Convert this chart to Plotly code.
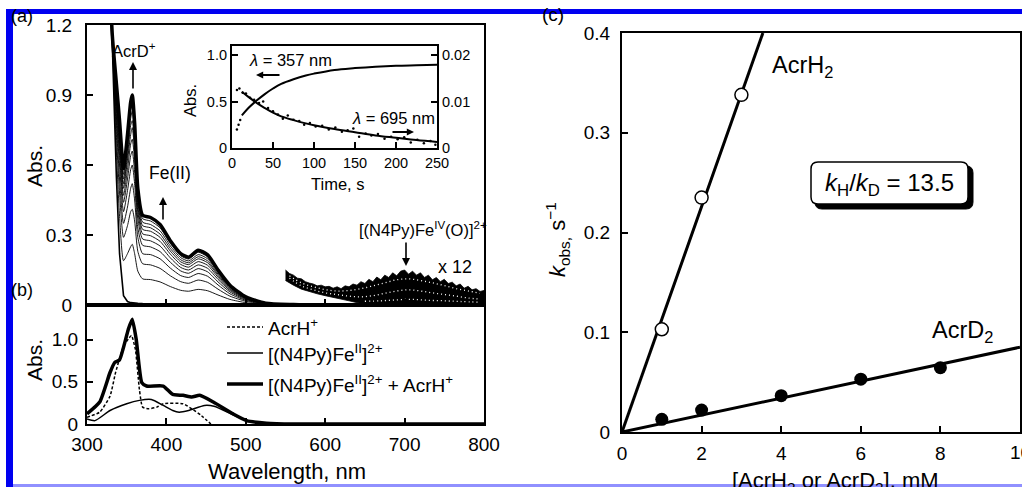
import plotly.graph_objects as go

W, H = 1022, 487
FONT = "Liberation Sans, Arial, Helvetica, sans-serif"


def px(x):
    return x / W


def py(y):
    return 1 - y / H


# ---------------- Panel (a): spectral changes ----------------
grid_nm = [326, 332, 337, 341, 346, 351, 355, 357, 360, 364, 370, 380, 392, 405,
           418, 428, 440, 452, 465, 480, 500, 525]
initial_nm = grid_nm + [560, 800]
initial_abs = [1.5, 1.1, 0.55, 0.22, 0.04, 0.015, 0.01, 0.01, 0.008, 0.007, 0.006,
               0.005, 0.004, 0.003, 0.002, 0.002, 0.002, 0.001, 0.001, 0.0, 0.0, 0.0,
               0.0, 0.0]
final_nm = grid_nm + [560, 600, 800]
final_abs = [1.6, 1.15, 0.95, 0.79, 0.585, 0.73, 0.87, 0.90, 0.78, 0.50, 0.385, 0.375,
             0.345, 0.275, 0.22, 0.205, 0.235, 0.215, 0.15, 0.085, 0.035, 0.008,
             0.002, 0.0, 0.0]
spec_1 = [1.53, 1.11, 0.66, 0.38, 0.19, 0.22, 0.25, 0.26, 0.22, 0.145, 0.112, 0.109,
          0.099, 0.079, 0.063, 0.059, 0.067, 0.061, 0.043, 0.024, 0.010, 0.002]
spec_2 = [1.55, 1.12, 0.73, 0.48, 0.29, 0.34, 0.40, 0.41, 0.36, 0.23, 0.177, 0.172,
          0.157, 0.125, 0.100, 0.093, 0.107, 0.097, 0.068, 0.038, 0.016, 0.004]
spec_3 = [1.56, 1.13, 0.78, 0.54, 0.35, 0.42, 0.50, 0.52, 0.45, 0.29, 0.22, 0.216,
          0.198, 0.158, 0.126, 0.118, 0.135, 0.123, 0.086, 0.048, 0.020, 0.005]
spec_4 = [1.57, 1.13, 0.81, 0.60, 0.40, 0.49, 0.58, 0.60, 0.52, 0.33, 0.256, 0.249,
          0.229, 0.183, 0.146, 0.136, 0.156, 0.142, 0.099, 0.056, 0.023, 0.005]
spec_5 = [1.57, 1.14, 0.84, 0.64, 0.44, 0.54, 0.64, 0.66, 0.57, 0.37, 0.283, 0.275,
          0.253, 0.202, 0.161, 0.150, 0.172, 0.157, 0.110, 0.062, 0.026, 0.006]
spec_6 = [1.58, 1.14, 0.87, 0.67, 0.47, 0.58, 0.69, 0.71, 0.62, 0.40, 0.305, 0.297,
          0.273, 0.218, 0.174, 0.162, 0.186, 0.170, 0.119, 0.067, 0.028, 0.006]
spec_7 = [1.58, 1.14, 0.89, 0.70, 0.50, 0.62, 0.73, 0.76, 0.66, 0.42, 0.324, 0.316,
          0.290, 0.231, 0.185, 0.173, 0.198, 0.181, 0.126, 0.071, 0.029, 0.007]
spec_8 = [1.59, 1.14, 0.90, 0.72, 0.52, 0.64, 0.77, 0.79, 0.69, 0.44, 0.34, 0.331,
          0.304, 0.242, 0.194, 0.181, 0.207, 0.189, 0.132, 0.075, 0.031, 0.007]
spec_9 = [1.59, 1.15, 0.92, 0.74, 0.54, 0.67, 0.80, 0.83, 0.72, 0.46, 0.355, 0.345,
          0.318, 0.253, 0.203, 0.189, 0.216, 0.198, 0.138, 0.078, 0.032, 0.007]
spec_10 = [1.60, 1.15, 0.93, 0.77, 0.56, 0.70, 0.84, 0.86, 0.75, 0.48, 0.37, 0.36,
           0.331, 0.264, 0.211, 0.197, 0.226, 0.206, 0.144, 0.082, 0.034, 0.008]
intermediate_spectra = [spec_1, spec_2, spec_3, spec_4, spec_5, spec_6, spec_7,
                        spec_8, spec_9, spec_10]

# x12 magnified Fe(IV)=O band (noisy region), upper and lower envelopes
band_up_nm = list(range(550, 801, 5))
band_up_abs = [0.150, 0.135, 0.128, 0.115, 0.112, 0.100, 0.094, 0.090, 0.082, 0.085,
               0.078, 0.080, 0.072, 0.078, 0.070, 0.082, 0.078, 0.090, 0.085, 0.100,
               0.092, 0.110, 0.100, 0.120, 0.108, 0.128, 0.118, 0.138, 0.125, 0.145,
               0.150, 0.132, 0.145, 0.128, 0.138, 0.118, 0.128, 0.108, 0.118, 0.100,
               0.110, 0.092, 0.098, 0.082, 0.090, 0.072, 0.080, 0.065, 0.070, 0.058,
               0.062]
band_lo_nm = [550, 560, 570, 580, 590, 600, 610, 620, 630, 640, 650, 660, 680, 700, 800]
band_lo_abs = [0.105, 0.085, 0.068, 0.058, 0.048, 0.040, 0.030, 0.025, 0.018, 0.010,
               0.006, 0.004, 0.002, 0.002, 0.002]
# white speckles seen inside the noisy band
speck_nm = [555, 570, 585, 600, 615, 630, 645, 660, 675, 690, 705, 720, 735, 750, 765,
            780, 795]
speck_hi_abs = [0.125, 0.095, 0.078, 0.066, 0.060, 0.062, 0.070, 0.082, 0.095, 0.108,
                0.112, 0.105, 0.095, 0.083, 0.070, 0.060, 0.050]
speck_mid_abs = [0.115, 0.082, 0.065, 0.052, 0.045, 0.038, 0.035, 0.040, 0.050, 0.060,
                 0.065, 0.060, 0.052, 0.045, 0.038, 0.030, 0.025]
speck_lo_nm = [650, 670, 690, 710, 730, 750, 770, 795]
speck_lo_abs = [0.016, 0.018, 0.022, 0.024, 0.020, 0.018, 0.015, 0.012]

# ---------------- Inset: time courses ----------------
t_357 = [12, 20, 30, 40, 50, 60, 75, 90, 100, 125, 150, 175, 200, 225, 250]
abs_357 = [0.35, 0.43, 0.51, 0.58, 0.64, 0.69, 0.74, 0.78, 0.80, 0.84, 0.86, 0.875,
           0.885, 0.89, 0.895]
t_357_pts = [6, 8, 10]
abs_357_pts = [0.20, 0.25, 0.30]
t_695 = [12, 20, 30, 40, 50, 60, 75, 90, 100, 125, 150, 175, 200, 225, 250]
abs_695 = [0.0121, 0.0110, 0.0097, 0.0086, 0.0076, 0.0068, 0.0060, 0.0053, 0.0049,
           0.0041, 0.0034, 0.0027, 0.0022, 0.0017, 0.0013]
t_695_pts = [6, 9, 13, 17, 22, 27, 33, 38, 44, 50, 56, 62, 68, 75, 82, 88, 95, 102, 110,
             118, 126, 134, 141, 148, 155, 163, 170, 178, 186, 194, 202, 210, 218, 226,
             234, 242, 248]
abs_695_pts = [0.0125, 0.0128, 0.0119, 0.0117, 0.0108, 0.0104, 0.0097, 0.0100, 0.0086,
               0.0079, 0.0072, 0.0063, 0.0070, 0.0061, 0.0058, 0.0050, 0.0054, 0.0046,
               0.0048, 0.0040, 0.0044, 0.0035, 0.0038, 0.0042, 0.0024, 0.0031, 0.0027,
               0.0030, 0.0020, 0.0024, 0.0019, 0.0023, 0.0012, 0.0018, 0.0010, 0.0015,
               0.0007]

# ---------------- Panel (b): reference spectra ----------------
mix_nm = [300, 316, 329, 335, 341, 352, 357, 362, 369, 375, 396, 408, 421, 432, 442,
          459, 484, 501, 526, 560, 800]
mix_abs = [0.12, 0.26, 0.61, 0.73, 0.76, 1.12, 1.24, 1.0, 0.49, 0.45, 0.45, 0.35, 0.34,
           0.32, 0.34, 0.26, 0.12, 0.04, 0.01, 0.0, 0.0]
acrh_nm = [300, 316, 329, 336, 346, 353, 356, 361, 366, 370, 378, 388, 396, 421, 432,
           444, 456]
acrh_abs = [0.08, 0.14, 0.33, 0.61, 0.92, 1.02, 1.05, 0.88, 0.41, 0.20, 0.18, 0.20, 0.24,
            0.24, 0.18, 0.10, 0.0]
fe2_nm = [300, 310, 329, 350, 366, 381, 396, 408, 416, 428, 448, 460, 484, 501, 520, 550]
fe2_abs = [0.06, 0.04, 0.16, 0.24, 0.28, 0.29, 0.22, 0.16, 0.14, 0.16, 0.22, 0.21, 0.11,
           0.04, 0.01, 0.0]

# ---------------- Panel (c): kinetics ----------------
conc_h = [1, 2, 3]
kobs_h = [0.103, 0.235, 0.338]
fit_h_x = [0, 3.54]
fit_h_y = [0, 0.4]
conc_d = [1, 2, 4, 6, 8]
kobs_d = [0.0127, 0.022, 0.0364, 0.053, 0.0645]
fit_d_x = [0, 10]
fit_d_y = [0, 0.085]
c_ticks = [0, 2, 4, 6, 8, 10]

fig = go.Figure()

# panel (a) traces
fig.add_trace(go.Scatter(x=initial_nm, y=initial_abs, mode="lines",
                         line=dict(color="black", width=1.6), xaxis="x", yaxis="y"))
for s in intermediate_spectra:
    fig.add_trace(go.Scatter(x=grid_nm, y=s, mode="lines",
                             line=dict(color="black", width=0.9, shape="spline", smoothing=0.6),
                             xaxis="x", yaxis="y"))
fig.add_trace(go.Scatter(x=final_nm, y=final_abs, mode="lines",
                         line=dict(color="black", width=3.5, shape="spline", smoothing=0.6),
                         xaxis="x", yaxis="y"))
fig.add_trace(go.Scatter(x=band_up_nm + band_lo_nm[::-1], y=band_up_abs + band_lo_abs[::-1],
                         mode="lines", fill="toself", fillcolor="black",
                         line=dict(color="black", width=0.8), xaxis="x", yaxis="y"))
for xs, ys in [(speck_nm, speck_hi_abs), (speck_nm, speck_mid_abs), (speck_lo_nm, speck_lo_abs)]:
    fig.add_trace(go.Scatter(x=xs, y=ys, mode="lines",
                             line=dict(color="white", width=1.3, dash="1px,3px", shape="spline"),
                             xaxis="x", yaxis="y"))

# inset traces
fig.add_trace(go.Scatter(x=t_357, y=abs_357, mode="lines",
                         line=dict(color="black", width=2, shape="spline"), xaxis="x3", yaxis="y3"))
fig.add_trace(go.Scatter(x=t_357_pts, y=abs_357_pts, mode="markers",
                         marker=dict(color="black", size=2.5), xaxis="x3", yaxis="y3"))
fig.add_trace(go.Scatter(x=t_695_pts, y=abs_695_pts, mode="markers",
                         marker=dict(color="black", size=2.5), xaxis="x3", yaxis="y4"))
fig.add_trace(go.Scatter(x=t_695, y=abs_695, mode="lines",
                         line=dict(color="black", width=2, shape="spline"), xaxis="x3", yaxis="y4"))

# panel (b) traces
fig.add_trace(go.Scatter(x=acrh_nm, y=acrh_abs, mode="lines",
                         line=dict(color="black", width=1.5, dash="3px,2px", shape="spline", smoothing=0.5),
                         xaxis="x2", yaxis="y2"))
fig.add_trace(go.Scatter(x=fe2_nm, y=fe2_abs, mode="lines",
                         line=dict(color="black", width=1.5, shape="spline", smoothing=0.6),
                         xaxis="x2", yaxis="y2"))
fig.add_trace(go.Scatter(x=mix_nm, y=mix_abs, mode="lines",
                         line=dict(color="black", width=3.5, shape="spline", smoothing=0.5),
                         xaxis="x2", yaxis="y2"))

# panel (c) traces
fig.add_trace(go.Scatter(x=fit_h_x, y=fit_h_y, mode="lines",
                         line=dict(color="black", width=3), xaxis="x4", yaxis="y5"))
fig.add_trace(go.Scatter(x=fit_d_x, y=fit_d_y, mode="lines",
                         line=dict(color="black", width=3), xaxis="x4", yaxis="y5"))
fig.add_trace(go.Scatter(x=conc_h, y=kobs_h, mode="markers",
                         marker=dict(color="white", size=13, line=dict(color="black", width=1.5)),
                         xaxis="x4", yaxis="y5", cliponaxis=False))
fig.add_trace(go.Scatter(x=conc_d, y=kobs_d, mode="markers",
                         marker=dict(color="black", size=13),
                         xaxis="x4", yaxis="y5", cliponaxis=False))

axis_common = dict(showline=True, linecolor="black", linewidth=2.2, mirror=True,
                   ticks="inside", tickcolor="black", tickwidth=1.5, ticklen=6,
                   showgrid=False, zeroline=False, fixedrange=True, automargin=False)

tick19 = dict(family=FONT, size=19, color="black")
tick15 = dict(family=FONT, size=14.5, color="black")

fig.update_layout(
    width=W, height=H, margin=dict(l=0, r=0, t=0, b=0, pad=0), autosize=False,
    paper_bgcolor="white", plot_bgcolor="white", showlegend=False,
    font=dict(family=FONT, color="black"),
    xaxis=dict(domain=[px(87), px(484)], anchor="y", range=[300, 800],
               tickvals=[400, 500, 600, 700], showticklabels=False, **axis_common),
    yaxis=dict(domain=[py(305), py(25)], anchor="x", range=[0, 1.2],
               tickvals=[0, 0.3, 0.6, 0.9, 1.2], ticktext=["0", "0.3", "0.6", "0.9", "1.2"],
               tickfont=tick19, ticklabelstandoff=9, **axis_common),
    xaxis2=dict(domain=[px(87), px(484)], anchor="y2", range=[300, 800],
                tickvals=[300, 400, 500, 600, 700, 800], tickfont=tick19,
                ticklabelstandoff=2, **axis_common),
    yaxis2=dict(domain=[py(424), py(305)], anchor="x2", range=[0, 1.41],
                tickvals=[0, 0.5, 1.0], ticktext=["0", "0.5", "1.0"],
                tickfont=tick19, ticklabelstandoff=3, **axis_common),
    xaxis3=dict(domain=[px(232), px(437)], anchor="y3", range=[0, 250],
                tickvals=[0, 50, 100, 150, 200, 250], tickfont=tick15, **axis_common),
    yaxis3=dict(domain=[py(148), py(46)], anchor="x3", range=[0, 1.097],
                tickvals=[0, 0.5, 1.0], ticktext=["0", "0.5", "1.0"], tickfont=tick15,
                **axis_common),
    yaxis4=dict(overlaying="y3", anchor="x3", side="right", range=[0, 0.02194],
                tickvals=[0, 0.01, 0.02], ticktext=["0", "0.01", "0.02"], tickfont=tick15,
                showline=True, linecolor="black", linewidth=2.2, ticks="inside",
                tickcolor="black", tickwidth=1.5, ticklen=6, showgrid=False,
                zeroline=False, fixedrange=True, automargin=False),
    xaxis4=dict(domain=[px(622), px(1020)], anchor="y5", range=[0, 10],
                tickvals=c_ticks, tickfont=tick19, ticklabelstandoff=3,
                **axis_common),
    yaxis5=dict(domain=[py(432), py(33)], anchor="x4", range=[0, 0.4],
                tickvals=[0, 0.1, 0.2, 0.3, 0.4], ticktext=["0", "0.1", "0.2", "0.3", "0.4"],
                tickfont=tick19, ticklabelstandoff=6, **axis_common),
)

ann = []


def text(x, y, s, size=17, angle=0, xanchor="center", yanchor="middle"):
    ann.append(dict(x=px(x), y=py(y), xref="paper", yref="paper", text=s, showarrow=False,
                    font=dict(family=FONT, size=size, color="black"), textangle=angle,
                    xanchor=xanchor, yanchor=yanchor))


def arrow(x_head, y_head, x_tail, y_tail, width=1.6, head=2, size=1.0):
    ann.append(dict(x=px(x_head), y=py(y_head), xref="paper", yref="paper", text="",
                    showarrow=True, ax=x_tail - x_head, ay=y_tail - y_head,
                    arrowhead=head, arrowsize=size, arrowwidth=width, arrowcolor="black"))


# panel labels
text(22, 16, "(a)", 18)
text(22, 290, "(b)", 18)
text(553, 15, "(c)", 19)

# axis titles
text(34, 166, "Abs.", 21, angle=-90)
text(34, 360, "Abs.", 21, angle=-90)
text(287, 471, "Wavelength, nm", 22)
text(190, 101, "Abs.", 16.5, angle=-90)
text(337, 184, "Time, s", 16.5)
text(557, 240, "<i>k</i><sub>obs,</sub> s<sup>−1</sup>", 22, angle=-90)
text(835, 466, "[AcrH<sub>2</sub> or AcrD<sub>2</sub>], mM", 22, yanchor="top")
# last x tick label of panel (c), partly beyond the right edge as in the original
ann.append(dict(x=c_ticks[-1], y=0, xref="x4", yref="y5", text=str(c_ticks[-1]),
                showarrow=False, yanchor="top", yshift=-8,
                font=dict(family=FONT, size=19, color="black")))

# panel (a) annotations
text(134, 50, "AcrD<sup>+</sup>", 16.5)
arrow(133, 62, 133, 90)
text(170, 173, "Fe(II)", 17.5)
arrow(163, 197, 163, 221)
text(423, 229, "[(N4Py)Fe<sup>IV</sup>(O)]<sup>2+</sup>", 16.5)
arrow(406, 266, 406, 241)
text(455, 267, "x 12", 18)

# inset annotations
text(290, 60, "<i>λ</i> = 357 nm", 16.5)
arrow(256, 75, 281, 75, width=1.8, head=2, size=0.8)
text(393, 118, "<i>λ</i> = 695 nm", 16.5)
arrow(414, 132, 391, 132, width=1.8, head=2, size=0.8)

# panel (b) legend
legend_rows = [(327, "AcrH<sup>+</sup>"), (353, "[(N4Py)Fe<sup>II</sup>]<sup>2+</sup>"),
               (384, "[(N4Py)Fe<sup>II</sup>]<sup>2+</sup> + AcrH<sup>+</sup>")]
for yy, s in legend_rows:
    text(266, yy, s, 19, xanchor="left")

# panel (c) annotations
text(802, 66, "AcrH<sub>2</sub>", 23.5)
text(962, 331, "AcrD<sub>2</sub>", 23.5)
text(889, 184, "<i>k</i><sub>H</sub>/<i>k</i><sub>D</sub> = 13.5", 24)

fig.update_layout(annotations=ann)

shapes = []
# legend sample lines
shapes.append(dict(type="line", xref="paper", yref="paper", x0=px(227), x1=px(263),
                   y0=py(327), y1=py(327), line=dict(color="black", width=1.5, dash="3px,2px")))
shapes.append(dict(type="line", xref="paper", yref="paper", x0=px(227), x1=px(263),
                   y0=py(353), y1=py(353), line=dict(color="black", width=1.5)))
shapes.append(dict(type="line", xref="paper", yref="paper", x0=px(227), x1=px(263),
                   y0=py(384), y1=py(384), line=dict(color="black", width=3.5)))


def rounded_rect(x0, y0, x1, y1, r):
    rx = r / W
    ry = r / H
    X0, X1 = px(x0), px(x1)
    Y0, Y1 = py(y0), py(y1)  # Y0 top (larger), Y1 bottom
    return (f"M {X0 + rx},{Y0} L {X1 - rx},{Y0} Q {X1},{Y0} {X1},{Y0 - ry} "
            f"L {X1},{Y1 + ry} Q {X1},{Y1} {X1 - rx},{Y1} L {X0 + rx},{Y1} "
            f"Q {X0},{Y1} {X0},{Y1 + ry} L {X0},{Y0 - ry} Q {X0},{Y0} {X0 + rx},{Y0} Z")


shapes.append(dict(type="path", xref="paper", yref="paper", path=rounded_rect(815, 166, 973, 209, 7),
                   fillcolor="black", line=dict(color="black", width=1), layer="above"))
shapes.append(dict(type="path", xref="paper", yref="paper", path=rounded_rect(811, 162, 968, 204, 7),
                   fillcolor="white", line=dict(color="black", width=1.5), layer="above"))

# page frame (blue bars)
shapes.append(dict(type="rect", xref="paper", yref="paper", x0=px(6), x1=1, y0=py(14), y1=py(9),
                   fillcolor="#0000f0", line=dict(width=0), layer="above"))
shapes.append(dict(type="rect", xref="paper", yref="paper", x0=px(6), x1=px(13), y0=0, y1=py(9),
                   fillcolor="#0000f0", line=dict(width=0), layer="above"))
shapes.append(dict(type="rect", xref="paper", yref="paper", x0=px(13), x1=1, y0=py(487), y1=py(484),
                   fillcolor="#9090ff", line=dict(width=0), layer="above"))
fig.update_layout(shapes=shapes)

fig.write_html("out.html",
               post_script="document.body.style.margin='0';document.body.style.overflow='hidden';")
